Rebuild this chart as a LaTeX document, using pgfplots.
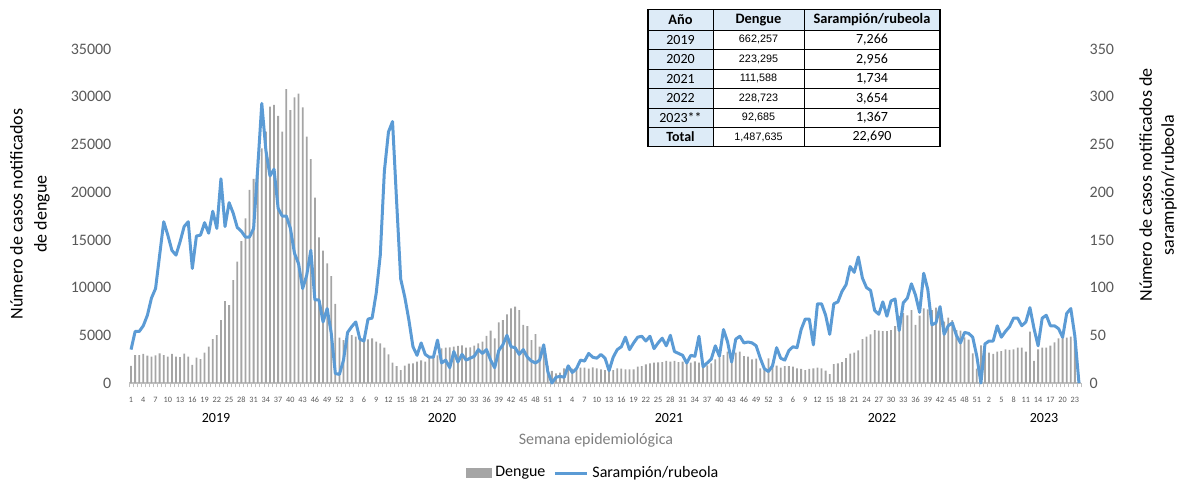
\documentclass[border=0pt]{standalone}
\usepackage{fontspec}
\setmainfont{Carlito}
\newfontfamily\arialf{Liberation Sans}
\usepackage{pgfplots}
\usepackage{pgfplotstable}
\pgfplotsset{compat=1.18}
\definecolor{dengue}{HTML}{A5A5A5}
\definecolor{sar}{HTML}{5B9BD5}
\definecolor{tickgray}{HTML}{595959}
\definecolor{axgray}{HTML}{BFBFBF}
\definecolor{tblue}{HTML}{DDEBF7}
\definecolor{titlegray}{HTML}{7F7F7F}

% weekly values: d = dengue cases, m = measles/rubella cases
% 2019 w1-52, 2020 w1-53, 2021 w1-52, 2022 w1-52, 2023 w1-24
\pgfplotstableread{
d m
1800 35
2930 54
2930 54
3040 60
2860 71
2760 89
2900 99
3100 134
2930 169
2760 155
3040 139
2760 134
2720 148
3070 164
2760 169
1890 120
2650 154
2500 155
3180 168
3810 157
4610 180
5030 162
6600 214
8590 164
8170 189
10790 178
12720 163
14880 159
17260 153
20230 153
21380 162
23500 225
24600 293
26340 244
28960 217
29150 224
27980 183
26340 175
30800 175
28600 162
29930 136
30320 125
28890 99
25810 113
23470 139
19420 87
15260 87
13870 64
12540 78
11210 52
8280 10
4750 9
4500 24
4800 53
5030 59
4850 64
4700 46
4680 44
4580 67
4680 68
4330 94
4160 134
3700 222
3000 263
2130 274
1780 190
1360 109
1820 90
2030 66
2060 38
2240 29
2380 42
2240 30
2690 27
2760 27
2900 45
3630 21
3700 24
3740 16
3810 33
3880 22
3950 30
3700 24
3740 26
3910 28
4160 35
4330 31
4930 35
5480 24
4680 16
6360 34
6600 40
7200 50
7820 38
8000 37
7650 30
6080 35
5970 27
4500 23
5130 21
3810 24
3950 40
1820 12
1260 0
1010 6
1080 7
1540 6
1430 18
1500 11
1360 15
1610 24
1610 23
1500 31
1640 27
1540 26
1430 30
1360 26
1540 13
1360 27
1540 35
1500 38
1430 48
1430 35
1430 42
1710 48
1780 49
1960 44
2060 49
2130 36
2170 42
2200 47
2310 39
2240 50
2310 33
2200 31
2240 29
2170 21
2130 29
2270 28
2130 49
1990 17
1850 21
2060 25
2480 39
2690 28
2930 56
3280 43
3110 22
3180 46
3280 49
2830 42
2760 43
2480 42
2550 39
1540 26
1360 15
2590 12
2060 18
1820 37
1610 26
1780 24
1780 34
1710 38
1540 37
1470 56
1360 67
1470 67
1540 40
1610 83
1540 83
1290 71
940 51
1990 83
2060 85
2200 96
2620 103
3070 122
3180 116
3420 132
4610 110
4860 100
5100 97
5550 76
5480 72
5450 85
5450 70
5550 86
5970 88
7000 55
7330 84
7100 89
7650 104
6080 92
7060 74
7820 115
7720 98
7650 61
7900 63
8070 80
6430 51
6850 60
6600 63
5550 50
5480 42
4790 53
4540 52
3110 48
1500 28
3950 0
3700 41
3180 44
3040 44
3280 60
3350 48
3530 54
3460 59
3530 68
3700 68
3700 60
3280 64
5380 79
2310 57
3530 39
3700 68
3700 71
3910 60
4260 60
4680 57
4750 48
4750 73
4850 78
4800 49
0 0
}\cases

\begin{document}
\begin{tikzpicture}
\path[use as bounding box] (0,0) rectangle (588.5pt,239.5pt);

\begin{axis}[
  at={(64.5pt,48pt)}, anchor=south west,
  scale only axis, width=476pt, height=167pt,
  xmin=0.5, xmax=233.5, ymin=0, ymax=35000,
  axis x line*=bottom, axis y line*=left,
  y axis line style={draw=none},
  x axis line style={draw=axgray, line width=0.6pt, -},
  tick align=outside, major tick length=0pt, minor tick length=2.2pt,
  xtick={1,4,...,232},
  xticklabels={1,4,7,10,13,16,19,22,25,28,31,34,37,40,43,46,49,52,
    3,6,9,12,15,18,21,24,27,30,33,36,39,42,45,48,51,
    1,4,7,10,13,16,19,22,25,28,31,34,37,40,43,46,49,52,
    3,6,9,12,15,18,21,24,27,30,33,36,39,42,45,48,51,
    2,5,8,11,14,17,20,23},
  minor xtick={0.5,1.5,...,233.5},
  minor x tick style={draw=axgray, line width=0.3pt},
  major x tick style={draw=none},
  major y tick style={draw=none},
  ytick={0,5000,...,35000},
  scaled y ticks=false,
  /pgf/number format/assume math mode=true,
  /pgf/number format/1000 sep={},
  yticklabel style={font=\fontsize{8}{9}\selectfont, text=tickgray, xshift=-5.3pt},
  xticklabel style={font=\fontsize{4.1}{5}\selectfont, text=tickgray, yshift=-3.5pt},
  clip=false,
]
\addplot[ybar, bar width=0.9pt, fill=dengue, draw=none] table[x expr=\coordindex+1, y=d]{\cases};
\end{axis}

\begin{axis}[
  at={(64.5pt,48pt)}, anchor=south west,
  scale only axis, width=476pt, height=167pt,
  xmin=0.5, xmax=233.5, ymin=0, ymax=350,
  axis x line=none, axis y line*=right,
  y axis line style={draw=none},
  major tick length=0pt,
  major y tick style={draw=none},
  ytick={0,50,...,350},
  /pgf/number format/assume math mode=true,
  yticklabel style={font=\fontsize{8}{9}\selectfont, text=tickgray, xshift=0.8pt},
  clip=false,
  legend style={at={(0.4884,-0.2695)}, anchor=center, draw=none, fill=none,
    legend columns=2, font=\fontsize{8}{9}\selectfont, inner sep=0pt,
    /tikz/every even column/.append style={column sep=2pt}},
  legend cell align=left,
]
\addlegendimage{legend image code/.code={\fill[dengue] (0pt,-2.2pt) rectangle (12.5pt,2.2pt);}}
\addlegendentry{Dengue}
\addplot[sar, line width=1.5pt, line join=round, mark=none,
  legend image code/.code={\draw[sar, line width=1.5pt] (0pt,0pt) -- (16pt,0pt);}]
  table[x expr=\coordindex+1, y=m]{\cases};
\addlegendentry{Sarampión/rubeola}
\end{axis}

% axis titles
\node[rotate=90, align=center, font=\fontsize{9}{12}\selectfont] at (15pt,132.5pt)
  {Número de casos notificados\\de dengue};
\node[rotate=90, align=center, font=\fontsize{9}{11}\selectfont] at (579pt,147pt)
  {Número de casos notificados de\\sarampión/rubeola};
\node[font=\fontsize{8}{9}\selectfont, text=titlegray] at (298pt,19.5pt) {Semana epidemiológica};

% year labels
\foreach \yx/\yr in {108/2019, 221/2020, 334.5/2021, 441/2022, 522/2023}
  \node[font=\fontsize{7}{8}\selectfont] at (\yx pt,30.5pt) {\yr};

% summary table
\fill[tblue] (324pt,166.25pt) rectangle (356.5pt,234.75pt);
\fill[tblue] (356.5pt,224.5pt) rectangle (470pt,234.75pt);
\foreach \ry in {224.5,214.75,205,195.25,185.5,175.75}
  \draw[line width=0.5pt] (324pt,\ry pt) -- (470pt,\ry pt);
\draw[line width=0.5pt] (356.5pt,166.25pt) -- (356.5pt,234.75pt);
\draw[line width=0.5pt] (402pt,166.25pt) -- (402pt,234.75pt);
\draw[line width=0.9pt] (324pt,166.25pt) rectangle (470pt,234.75pt);
\begin{scope}[every node/.style={inner sep=0pt}]
\node[font=\bfseries\fontsize{7.2}{8}\selectfont] at (340.25pt,229.6pt) {Año};
\node[font=\bfseries\fontsize{7.2}{8}\selectfont] at (379.25pt,229.6pt) {Dengue};
\node[font=\bfseries\fontsize{7.2}{8}\selectfont] at (436pt,229.6pt) {Sarampión/rubeola};
\foreach \cy/\yr/\dv/\mv in {219.6/2019/662{,}257/7{,}266, 209.9/2020/223{,}295/2{,}956,
    200.1/2021/111{,}588/1{,}734, 190.4/2022/228{,}723/3{,}654, 180.6/2023**/92{,}685/1{,}367}{
  \node[font=\fontsize{7}{8}\selectfont] at (340.25pt,\cy pt) {\yr};
  \node[font=\arialf\fontsize{5.4}{6}\selectfont] at (379.25pt,\cy pt) {\dv};
  \node[font=\fontsize{7}{8}\selectfont] at (436pt,\cy pt) {\mv};
}
\node[font=\bfseries\fontsize{7}{8}\selectfont] at (340.25pt,171pt) {Total};
\node[font=\arialf\fontsize{5.4}{6}\selectfont] at (379.25pt,171pt) {1,487,635};
\node[font=\fontsize{7}{8}\selectfont] at (436pt,171pt) {22,690};
\end{scope}
\end{tikzpicture}
\end{document}
